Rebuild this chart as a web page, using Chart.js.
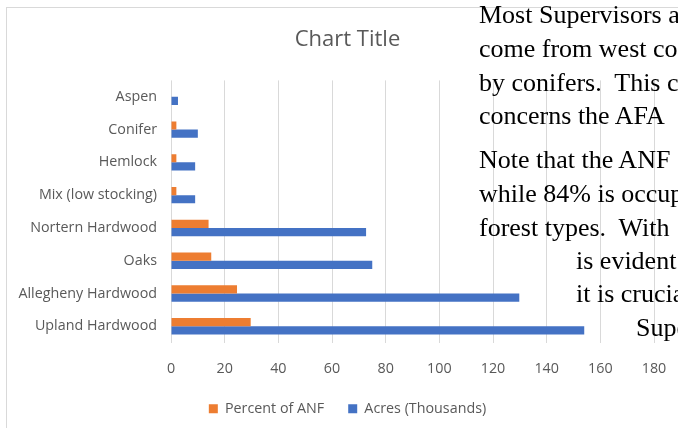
<!DOCTYPE html>
<html lang="en">

<head>
  <meta charset="UTF-8">
  <title>Chart Title</title>
  <script src="https://cdn.jsdelivr.net/npm/chart.js"></script>
  <style>
    html, body { margin: 0; padding: 0; width: 678px; height: 428px; overflow: hidden; background: #fff; }
    #frame { position: absolute; left: 6px; top: 7px; width: 690px; height: 440px; border-left: 1px solid #d9d9d9; border-top: 1px solid #d9d9d9; }
    #chartBox { position: absolute; left: 0; top: 0; width: 681px; height: 418px; }
    .doc { position: absolute; font-family: "Liberation Serif", serif; font-size: 26px; line-height: 34px; color: #000; white-space: pre; }
  </style>
</head>

<body>
  <div id="frame">
    <div id="chartBox"><canvas id="forestChart"></canvas></div>
  </div>

  <!-- document text that runs over the chart on the right -->
  <div class="doc" style="left: 479px; top: -2px;">Most Supervisors a</div>
  <div class="doc" style="left: 479px; top: 32px;">come from west co</div>
  <div class="doc" style="left: 479px; top: 66px;">by conifers.  This c</div>
  <div class="doc" style="left: 479px; top: 99px;">concerns the AFA </div>
  <div class="doc" style="left: 479px; top: 143px;">Note that the ANF </div>
  <div class="doc" style="left: 479px; top: 177px;">while 84% is occup</div>
  <div class="doc" style="left: 479px; top: 211px;">forest types.  With </div>
  <div class="doc" style="left: 576px; top: 244px;">is evident</div>
  <div class="doc" style="left: 576px; top: 277px;">it is crucia</div>
  <div class="doc" style="left: 636px; top: 311px;">Supe</div>

  <script>
    // top to bottom, as on the picture
    const categories = ['Aspen', 'Conifer', 'Hemlock', 'Mix (low stocking)', 'Nortern Hardwood', 'Oaks', 'Allegheny Hardwood', 'Upland Hardwood']
    const percentOfAnf = [0, 2, 2, 2, 14, 15, 24.6, 29.7]
    const acresThousands = [2.6, 10, 9, 9, 72.7, 75, 129.8, 154]
    const xTicks = [0, 20, 40, 60, 80, 100, 120, 140, 160, 180]

    const textColor = '#595959'
    const font = { family: '"Open Sans", sans-serif', size: 14.3 }

    new Chart(document.getElementById('forestChart').getContext('2d'), {
      type: 'bar',
      data: {
        labels: categories,
        datasets: [
          {
            label: 'Percent of ANF',
            data: percentOfAnf,
            backgroundColor: '#ED7D31',
            barPercentage: 1,
            categoryPercentage: 0.5
          },
          {
            label: 'Acres (Thousands)',
            data: acresThousands,
            backgroundColor: '#4472C4',
            barPercentage: 1,
            categoryPercentage: 0.5
          }
        ]
      },
      options: {
        indexAxis: 'y',
        responsive: true,
        maintainAspectRatio: false,
        animation: false,
        layout: { padding: 0 },
        scales: {
          x: {
            min: 0,
            max: 180,
            afterBuildTicks: axis => { axis.ticks = xTicks.map(v => ({ value: v })) },
            afterFit: axis => { axis.paddingRight = 34; axis.height = 35 },
            grid: { color: '#d9d9d9', drawTicks: false },
            border: { display: false },
            ticks: { color: textColor, font, padding: 18 }
          },
          y: {
            afterFit: axis => { axis.width = 164 },
            grid: { display: false, drawTicks: false },
            border: { display: false },
            ticks: { color: textColor, font, padding: 14 }
          }
        },
        plugins: {
          title: {
            display: true,
            text: 'Chart Title',
            color: textColor,
            font: { family: '"Open Sans", sans-serif', size: 22, weight: 'normal' },
            padding: { top: 19, bottom: 27 }
          },
          legend: {
            position: 'bottom',
            labels: { color: textColor, font, boxWidth: 9, boxHeight: 9, padding: 24 }
          },
          tooltip: { enabled: false }
        }
      }
    })
  </script>
</body>

</html>
